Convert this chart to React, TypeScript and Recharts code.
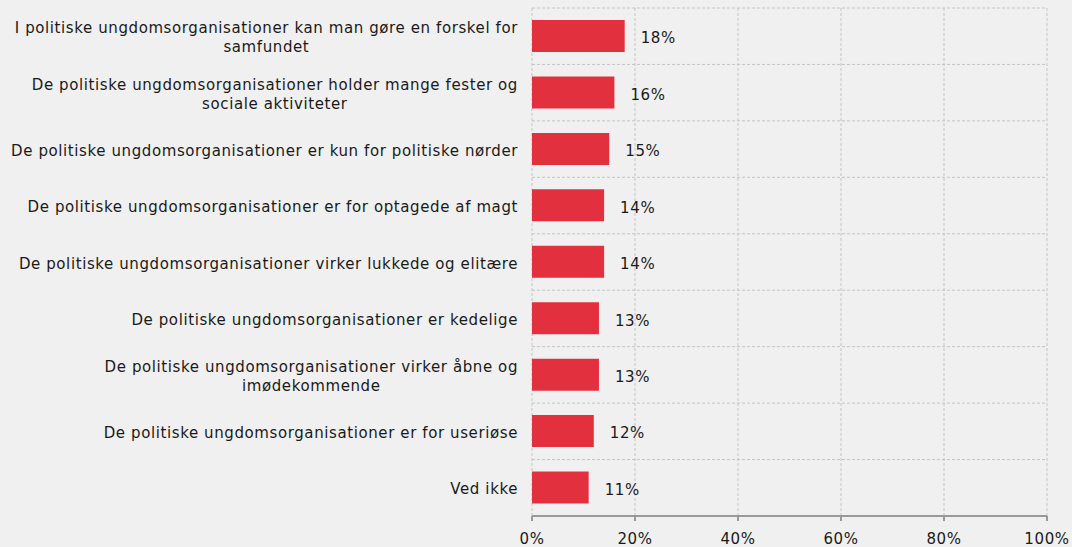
import React from "react";
import { BarChart, Bar, XAxis, YAxis, CartesianGrid, LabelList } from "recharts";

const categories = [
  "I politiske ungdomsorganisationer kan man gøre en forskel for\nsamfundet",
  "De politiske ungdomsorganisationer holder mange fester og\nsociale aktiviteter",
  "De politiske ungdomsorganisationer er kun for politiske nørder",
  "De politiske ungdomsorganisationer er for optagede af magt",
  "De politiske ungdomsorganisationer virker lukkede og elitære",
  "De politiske ungdomsorganisationer er kedelige",
  "De politiske ungdomsorganisationer virker åbne og\nimødekommende",
  "De politiske ungdomsorganisationer er for useriøse",
  "Ved ikke",
];
const values = [18, 16, 15, 14, 14, 13, 13, 12, 11];
const xTicks = [0, 20, 40, 60, 80, 100];

const data = categories.map((c, i) => ({ name: c, value: values[i] }));

const FONT = "Verdana, 'DejaVu Sans', sans-serif";
const TEXT = "#1a1a1a";
const LS = "0.6px";

const YTick = (props: any) => {
  const { x, y, payload } = props;
  const w = 530;
  const h = 56;
  return (
    <foreignObject x={x - w} y={y - h / 2 + 2} width={w} height={h}>
      <div
        style={{
          width: "100%",
          height: "100%",
          display: "flex",
          alignItems: "center",
          justifyContent: "flex-end",
          boxSizing: "border-box",
          paddingRight: 6,
          fontFamily: FONT,
          fontSize: 15,
          letterSpacing: LS,
          color: TEXT,
          lineHeight: "19px",
        }}
      >
        <div style={{ textAlign: "center", whiteSpace: "pre" }}>{payload.value}</div>
      </div>
    </foreignObject>
  );
};

export default function App() {
  return (
    <div
      style={{
        position: "absolute",
        left: 0,
        top: 0,
        width: 1072,
        height: 547,
        background: "#f0f0f0",
      }}
    >
      <BarChart
        width={1072}
        height={547}
        data={data}
        layout="vertical"
        margin={{ top: 8, right: 25, bottom: 0, left: 0 }}
      >
        <CartesianGrid
          stroke="#c4c4c4"
          strokeDasharray="3 2"
          horizontalCoordinatesGenerator={({ offset }: any) =>
            categories.map((_, i) => offset.top + (offset.height * i) / categories.length)
          }
        />
        <XAxis
          type="number"
          domain={[0, 100]}
          ticks={xTicks}
          tickFormatter={(v: number) => `${v}%`}
          axisLine={{ stroke: "#999999", strokeWidth: 2 }}
          tickLine={{ stroke: "#999999", strokeWidth: 2 }}
          tickSize={5}
          tickMargin={12}
          height={31}
          tick={{ fill: TEXT, fontSize: 15, fontFamily: FONT, letterSpacing: LS }}
          interval={0}
        />
        <YAxis
          type="category"
          dataKey="name"
          width={532}
          axisLine={false}
          tickLine={false}
          tick={<YTick />}
          interval={0}
        />
        <Bar dataKey="value" fill="#e3303f" barSize={32} isAnimationActive={false}>
          <LabelList
            dataKey="value"
            position="right"
            offset={16}
            dy={2}
            formatter={(v: any) => `${v}%`}
            fill={TEXT}
            fontSize={15}
            fontFamily={FONT}
            style={{ letterSpacing: LS }}
          />
        </Bar>
      </BarChart>
    </div>
  );
}
